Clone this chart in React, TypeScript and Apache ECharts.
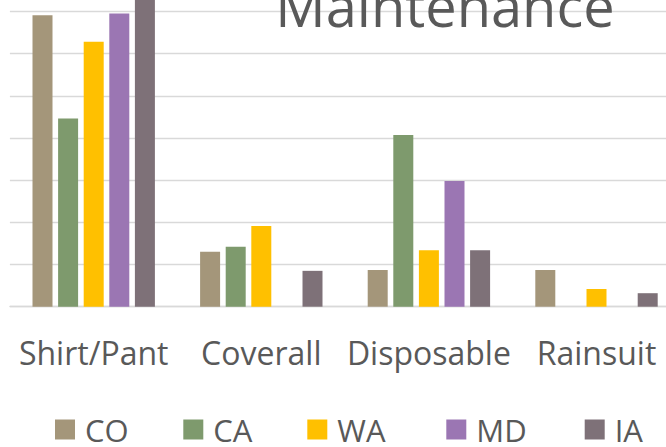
import React, { useEffect, useRef } from "react";
import * as echarts from "echarts";

const categories = ["Shirt/Pant", "Coverall", "Disposable", "Rainsuit"];
const seriesNames = ["CO", "CA", "WA", "MD", "IA"];
const coValues = [6.91, 1.3, 0.87, 0.87];
const caValues = [4.46, 1.42, 4.07, 0];
const waValues = [6.28, 1.91, 1.34, 0.42];
const mdValues = [6.95, 0, 2.98, 0];
const iaValues = [7.6, 0.85, 1.34, 0.32];
const colors = ["#A4967A", "#7E9A6D", "#FFC000", "#9B76B3", "#7E7178"];
const titleText = "Maintenance";

const FONT = "'Open Sans', 'Noto Sans', sans-serif";
const TEXT_COLOR = "#595959";
const CHART_W = 700;
const legendLefts = [55, 183.3, 307.3, 446.3, 584.7];

export default function App() {
  const ref = useRef<HTMLDivElement>(null);
  useEffect(() => {
    if (!ref.current) return;
    const chart = echarts.init(ref.current, undefined, { renderer: "svg" });
    const all = [coValues, caValues, waValues, mdValues, iaValues];
    chart.setOption({
      animation: false,
      color: colors,
      grid: { left: 9.9, right: CHART_W - 680.3, top: 0, bottom: 140.3, containLabel: false },
      graphic: [
        {
          type: "text",
          x: 445,
          y: 5,
          z: 100,
          style: {
            text: titleText,
            fontSize: 56,
            fontFamily: FONT,
            fill: TEXT_COLOR,
            align: "center",
            verticalAlign: "middle",
          },
        },
      ],
      legend: seriesNames.map((name, i) => ({
        data: [name],
        left: legendLefts[i],
        top: 414,
        padding: 0,
        itemWidth: 20,
        itemHeight: 20,
        icon: "rect",
        textStyle: {
          fontSize: 31,
          lineHeight: 30,
          fontFamily: FONT,
          color: TEXT_COLOR,
          padding: [0, 0, 0, 5],
        },
      })),
      xAxis: {
        type: "category",
        data: categories,
        axisLine: { show: true, lineStyle: { color: "#D9D9D9", width: 1.3 } },
        axisTick: { show: false },
        axisLabel: {
          fontSize: 32,
          fontFamily: FONT,
          color: TEXT_COLOR,
          margin: 30,
          interval: 0,
        },
      },
      yAxis: {
        type: "value",
        min: 0,
        max: 7.27,
        interval: 1,
        axisLabel: { show: false },
        axisLine: { show: false },
        axisTick: { show: false },
        splitLine: {
          show: true,
          showMaxLine: false,
          lineStyle: { color: "#D9D9D9", width: 1.3 },
        },
      },
      series: seriesNames.map((name, i) => ({
        name,
        type: "bar",
        data: all[i],
        barWidth: 20,
        barGap: "28%",
        itemStyle: { color: colors[i] },
      })),
    });
    return () => chart.dispose();
  }, []);
  return (
    <div style={{ position: "fixed", left: 0, top: 0, width: 666, height: 447, overflow: "hidden", background: "#fff" }}>
      <div ref={ref} style={{ position: "absolute", left: 0, top: 0, width: CHART_W, height: 447 }} />
    </div>
  );
}
